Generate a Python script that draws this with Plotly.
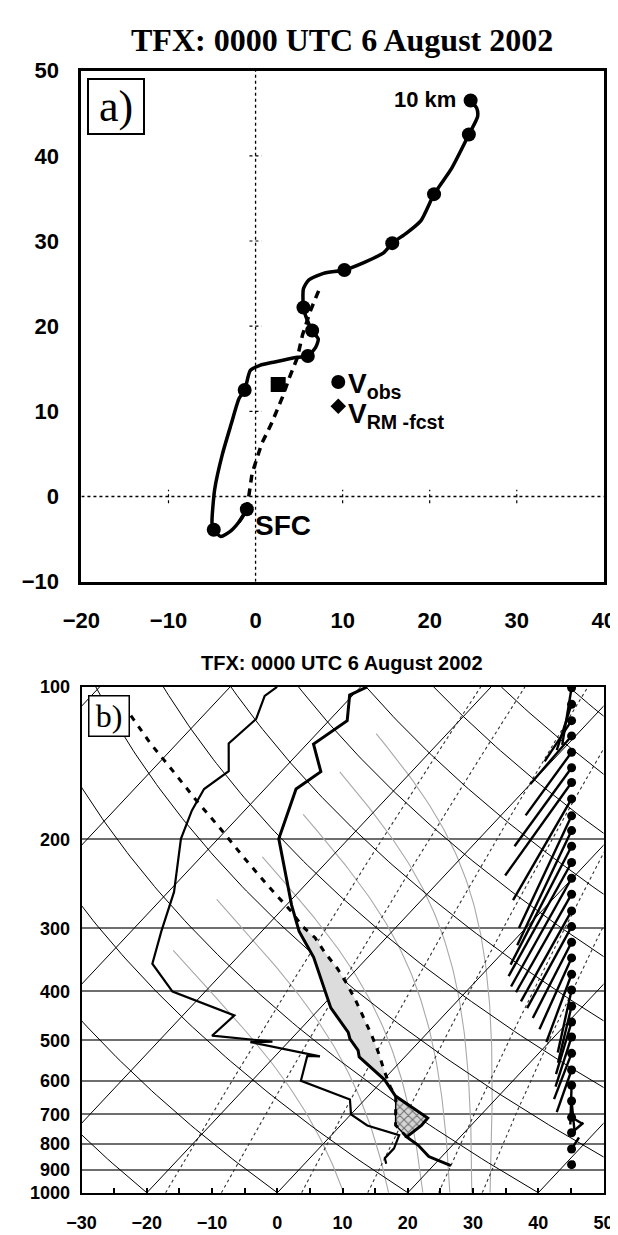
import numpy as np
import plotly.graph_objects as go

# ---------------- (a) hodograph data ----------------
hodo_path_u = [-1.0, -1.7, -2.8, -4.0, -4.8, -5.0, -4.7, -3.8, -2.8, -1.9, -1.25, -0.6, 0.5, 2.2, 4.8, 6.0,
               6.9, 7.2, 6.5, 5.9, 5.5, 5.5, 6.1, 7.8, 10.2, 12.5, 14.7, 15.7, 17.3, 19.0, 20.5, 22.5,
               24.5, 25.5, 25.4, 24.7]
hodo_path_v = [-1.5, -2.7, -4.0, -4.7, -3.9, -3.1, 0.8, 5.0, 8.5, 11.5, 12.5, 14.8, 15.4, 15.8, 16.35, 16.5,
               17.5, 18.5, 19.5, 20.8, 22.2, 24.4, 25.4, 26.2, 26.6, 27.5, 28.6, 29.75, 30.9, 32.4, 35.5, 38.5,
               42.5, 44.6, 45.6, 46.5]
hodo_km_u = [-1.0, -4.8, -1.25, 6.0, 6.5, 5.5, 10.2, 15.7, 20.5, 24.5, 24.7]
hodo_km_v = [-1.5, -3.9, 12.5, 16.5, 19.5, 22.2, 26.6, 29.75, 35.5, 42.5, 46.5]
hodo_dash_u = [-1.9, -1.0, -0.4, 0.7, 1.8, 3.1, 3.9, 4.8, 5.4, 6.3, 7.3]
hodo_dash_v = [-3.0, -1.5, 2.7, 6.2, 8.5, 11.7, 14.0, 16.3, 19.0, 21.8, 24.3]
storm_u = [2.6]
storm_v = [13.15]
hodo_ticks = [-20, -10, 0, 10, 20, 30, 40]
hodo_yticks = [-10, 0, 10, 20, 30, 40, 50]

# ---------------- (b) skew-T data ----------------
temp_p = [883.8, 860.5, 847.9, 804.8, 775.6, 736.1, 711.6, 643.9, 598.0, 538.7, 523.1, 496.5, 481.9,
          431.0, 397.3, 342.4, 313.2, 304.0, 269.9, 239.7, 199.6, 159.2, 147.1, 129.7, 116.6, 103.8, 100.0]
temp_T = [22.7, 19.5, 18.0, 14.7, 11.8, 12.4, 12.3, 4.2, 0.2, -7.0, -8.1, -11.0, -12.2,
          -18.4, -21.9, -28.3, -32.8, -34.3, -39.2, -43.7, -50.7, -55.2, -53.9, -59.0, -57.2, -60.5, -59.0]
dew_p = [875.9, 854.3, 817.0, 769.7, 736.1, 699.6, 653.8, 600.6, 536.3, 537.3, 503.8, 502.5, 489.2,
         446.1, 400.3, 352.6, 304.0, 254.3, 199.6, 175.4, 159.2, 146.7, 129.3, 115.7, 104.2, 100.0]
dew_T = [12.5, 11.5, 11.5, 10.4, 4.1, 0.0, -2.3, -12.5, -15.1, -13.1, -25.8, -22.5, -32.6,
         -32.1, -45.0, -52.1, -55.4, -59.1, -65.7, -68.1, -69.3, -68.1, -72.1, -71.4, -73.4, -72.8]
parcel_p = [775.6, 735.1, 643.1, 620.5, 576.0, 526.8, 489.2, 450.7, 415.4, 385.6, 360.6, 334.9,
            313.2, 297.3, 278.0, 246.8, 217.6, 190.3, 167.8, 147.8, 129.3, 113.1]
parcel_T = [11.8, 8.4, 4.2, 2.3, -1.0, -4.8, -8.1, -11.9, -15.8, -19.5, -23.0, -27.3,
            -30.9, -34.5, -38.3, -45.7, -53.3, -61.2, -68.8, -76.2, -84.1, -91.5]
barb_p = [879.9, 819.2, 760.8, 709.4, 658.4, 613.1, 571.9, 530.1, 492.1, 459.6, 427.9, 397.3, 369.9,
          343.3, 319.7, 297.7, 277.2, 256.9, 238.9, 222.4, 206.5, 192.3, 179.8, 166.5, 154.5, 144.5,
          134.6, 125.0, 116.6, 108.2, 100.4]
barb_u = [-1.0, -3.0, -4.8, -4.5, -1.25, 0.5, 6.0, 7.1, 6.5, 6.3, 5.5, 5.6, 10.2, 13.0, 15.7, 18.0,
          20.5, 22.5, 24.5, 25.5, 24.7, 22.0, 21.3, 23.7, 26.9, 23.1, 18.6, 16.7, 10.9, 6.0, 3.8]
barb_v = [-1.5, -4.5, -3.9, 2.6, 12.5, 15.4, 16.5, 18.0, 19.5, 20.5, 22.2, 24.5, 26.6, 28.0, 29.75, 32.0,
          35.5, 38.5, 42.5, 44.6, 46.5, 45.0, 44.0, 39.7, 36.5, 30.8, 24.8, 18.9, 16.0, 18.0, 22.4]
p_ticks = [100, 200, 300, 400, 500, 600, 700, 800, 900, 1000]
t_ticks = [-30, -20, -10, 0, 10, 20, 30, 40, 50]
isotherm_T = [-100, -80, -60, -40, -20, 0, 20, 40]
dry_theta_C = [-20, 0, 20, 40, 60, 80, 100, 120, 140, 160, 180, 200]
moist_theta_e = [305, 325, 345, 365, 385, 405]
mix_ratio = [1, 2, 5, 10, 20, 30]

# ---------------- layout geometry (px) ----------------
W, H = 618, 1235
A_L, A_R, A_T, A_B = 57.3, 607.3, 51.7, 573.3
B_L, B_R, B_T, B_B = 57.5, 607.0, 680.7, 1197.0
SKEW = 31.6  # deg C per ln(1000/p)
BARB_X = 45.1
BARB_PX = 2.6  # px per wind unit
PX_PER_X = (B_R - B_L) / 80.0
PX_PER_DEC = B_B - B_T

FONT = "Liberation Sans, Arial, sans-serif"
SERIF = "Liberation Serif, Times New Roman, serif"


def skx(p, T):
    p = np.asarray(p, float)
    return np.asarray(T, float) + SKEW * np.log(1000.0 / p)


fig = go.Figure()

# ---------------- hodograph ----------------
fig.add_trace(go.Scatter(x=[0, 0], y=[-10, 50], mode="lines", line=dict(color="black", width=1.3, dash="dot"),
                         xaxis="x", yaxis="y", hoverinfo="skip"))
fig.add_trace(go.Scatter(x=[-20, 40], y=[0, 0], mode="lines", line=dict(color="black", width=1.3, dash="dot"),
                         xaxis="x", yaxis="y", hoverinfo="skip"))
for tv in [10, 20, 30, 40]:
    fig.add_trace(go.Scatter(x=[-0.7, 0.7], y=[tv, tv], mode="lines", line=dict(color="black", width=1.2, dash="dot"),
                             xaxis="x", yaxis="y", hoverinfo="skip"))
for tu in [-10, 10, 20, 30]:
    fig.add_trace(go.Scatter(x=[tu, tu], y=[-0.8, 0.8], mode="lines", line=dict(color="black", width=1.2, dash="dot"),
                             xaxis="x", yaxis="y", hoverinfo="skip"))
fig.add_trace(go.Scatter(x=hodo_dash_u, y=hodo_dash_v, mode="lines",
                         line=dict(color="black", width=3.5, dash="8px,6px"), xaxis="x", yaxis="y"))
fig.add_trace(go.Scatter(x=hodo_path_u, y=hodo_path_v, mode="lines",
                         line=dict(color="black", width=3.5, shape="spline", smoothing=0.6), xaxis="x", yaxis="y"))
fig.add_trace(go.Scatter(x=hodo_km_u, y=hodo_km_v, mode="markers",
                         marker=dict(color="black", size=14, symbol="circle"), xaxis="x", yaxis="y"))
fig.add_trace(go.Scatter(x=storm_u, y=storm_v, mode="markers",
                         marker=dict(color="black", size=15, symbol="square"), xaxis="x", yaxis="y"))
fig.add_trace(go.Scatter(x=[9.5], y=[13.45], mode="markers",
                         marker=dict(color="black", size=14, symbol="circle"), xaxis="x", yaxis="y"))
fig.add_trace(go.Scatter(x=[9.5], y=[10.6], mode="markers",
                         marker=dict(color="black", size=12, symbol="diamond"), xaxis="x", yaxis="y"))

# ---------------- skew-T background ----------------
pp = np.geomspace(1000, 100, 120)


def theta_e_sat(TK, p):
    es = 6.112 * np.exp(17.67 * (TK - 273.15) / (TK - 29.65))
    r = 0.622 * es / (p - es)
    return TK * (1000.0 / p) ** (0.2854 * (1 - 0.28 * r)) * np.exp((3.376 / TK - 0.00254) * r * 1000 * (1 + 0.81 * r))


for the in moist_theta_e:
    lo = np.full_like(pp, 150.0)
    hi = np.full_like(pp, 320.0)
    for _ in range(60):
        mid = 0.5 * (lo + hi)
        f = theta_e_sat(mid, pp) - the
        hi = np.where(f > 0, mid, hi)
        lo = np.where(f > 0, lo, mid)
    TC = 0.5 * (lo + hi) - 273.15
    keep = TC >= -51.5
    fig.add_trace(go.Scatter(x=skx(pp[keep], TC[keep]), y=pp[keep], mode="lines",
                             line=dict(color="#a8a8a8", width=1.1), xaxis="x2", yaxis="y2", hoverinfo="skip"))
for w in mix_ratio:
    e = w * pp / (622.0 + w)
    lnr = np.log(e / 6.112)
    Td = 243.5 * lnr / (17.67 - lnr)
    fig.add_trace(go.Scatter(x=skx(pp, Td), y=pp, mode="lines",
                             line=dict(color="#333333", width=1.1, dash="dot"), xaxis="x2", yaxis="y2", hoverinfo="skip"))
for th in dry_theta_C:
    TK = (th + 273.15) * (pp / 1000.0) ** 0.2857
    fig.add_trace(go.Scatter(x=skx(pp, TK - 273.15), y=pp, mode="lines",
                             line=dict(color="black", width=1), xaxis="x2", yaxis="y2", hoverinfo="skip"))
for t0 in isotherm_T:
    fig.add_trace(go.Scatter(x=skx([1000, 100], [t0, t0]), y=[1000, 100], mode="lines",
                             line=dict(color="black", width=1), xaxis="x2", yaxis="y2", hoverinfo="skip"))

# CAPE (gray) and CIN (hatched)
tp = np.array(temp_p); tT = np.array(temp_T)
pa = np.array(parcel_p); pT = np.array(parcel_T)
m1 = (pa <= 600) & (pa >= 297)
m2 = (tp <= 600) & (tp >= 297)
cx = np.concatenate([skx(pa[m1], pT[m1]), skx(tp[m2], tT[m2])[::-1]])
cy = np.concatenate([pa[m1], tp[m2][::-1]])
fig.add_trace(go.Scatter(x=cx, y=cy, mode="lines", fill="toself", fillcolor="#dcdcdc",
                         line=dict(width=0, color="rgba(0,0,0,0)"), xaxis="x2", yaxis="y2", hoverinfo="skip"))
m1 = (pa <= 776) & (pa >= 640)
m2 = (tp <= 776) & (tp >= 640)
hx = np.concatenate([skx(pa[m1], pT[m1]), skx(tp[m2], tT[m2])[::-1]])
hy = np.concatenate([pa[m1], tp[m2][::-1]])
fig.add_trace(go.Scatter(x=hx, y=hy, mode="lines", fill="toself", fillcolor="#d0d0d0",
                         fillpattern=dict(shape="x", fgcolor="black", bgcolor="#d6d6d6", size=6, solidity=0.3),
                         line=dict(width=1.5, color="black"), xaxis="x2", yaxis="y2", hoverinfo="skip"))

fig.add_trace(go.Scatter(x=skx(dew_p, dew_T), y=dew_p, mode="lines", line=dict(color="black", width=2.2),
                         xaxis="x2", yaxis="y2"))
fig.add_trace(go.Scatter(x=skx(parcel_p, parcel_T), y=parcel_p, mode="lines",
                         line=dict(color="black", width=3, dash="6px,7px"), xaxis="x2", yaxis="y2"))
fig.add_trace(go.Scatter(x=skx(temp_p, temp_T), y=temp_p, mode="lines", line=dict(color="black", width=3),
                         xaxis="x2", yaxis="y2"))

bx, by = [], []
for p, u, v in zip(barb_p, barb_u, barb_v):
    bx += [BARB_X, BARB_X - u * BARB_PX / PX_PER_X, None]
    by += [p, p * 10 ** (v * BARB_PX / PX_PER_DEC), None]
fig.add_trace(go.Scatter(x=bx, y=by, mode="lines", line=dict(color="black", width=2.4), xaxis="x2", yaxis="y2"))
fig.add_trace(go.Scatter(x=[BARB_X] * len(barb_p), y=barb_p, mode="markers",
                         marker=dict(color="black", size=9), xaxis="x2", yaxis="y2"))

# ---------------- layout ----------------
tick_font_a = dict(family=FONT, size=22, color="black", weight="bold")
tick_font_b = dict(family=FONT, size=18, color="black", weight="bold")
fig.update_layout(
    width=W, height=H, showlegend=False, plot_bgcolor="white", paper_bgcolor="white",
    margin=dict(l=0, r=0, t=0, b=0),
    xaxis=dict(domain=[A_L / W, A_R / W], range=[-20, 40], tickvals=hodo_ticks, showgrid=False, zeroline=False,
               showline=True, linecolor="black", linewidth=3, mirror=True, tickfont=tick_font_a,
               ticks="", ticklabelstandoff=17, anchor="y"),
    yaxis=dict(domain=[1 - A_B / H, 1 - A_T / H], range=[-10, 50], tickvals=hodo_yticks, showgrid=False,
               zeroline=False, showline=True, linecolor="black", linewidth=3, mirror=True, tickfont=tick_font_a,
               ticks="", ticklabelstandoff=15, anchor="x"),
    xaxis2=dict(domain=[B_L / W, B_R / W], range=[-30, 50], tickvals=t_ticks,
                showgrid=False, zeroline=False, showline=True, linecolor="black", linewidth=2, mirror=True,
                ticks="inside", ticklen=5, tickwidth=1.5, tickcolor="black", tickfont=tick_font_b,
                minor=dict(ticks="inside", ticklen=5, tickwidth=1.5, tickcolor="black", dtick=5, tick0=-30,
                           showgrid=False),
                ticklabelstandoff=13, anchor="y2"),
    yaxis2=dict(domain=[1 - B_B / H, 1 - B_T / H], type="log", range=[3, 2], tickvals=p_ticks,
                ticktext=[str(p) for p in p_ticks], showgrid=True, gridcolor="#6e6e6e", gridwidth=1.6,
                zeroline=False, showline=True, linecolor="black", linewidth=2, mirror=True, ticks="",
                tickfont=tick_font_b, ticklabelstandoff=6, anchor="x2"),
)

ann = []
ann.append(dict(text="<b>TFX: 0000 UTC 6 August 2002</b>", x=332 / W, y=1 - 20 / H, xref="paper", yref="paper",
                showarrow=False, font=dict(family=SERIF, size=32, color="black"), xanchor="center", yanchor="middle"))
ann.append(dict(text="<b>TFX: 0000 UTC 6 August 2002</b>", x=332 / W, y=1 - 656 / H, xref="paper", yref="paper",
                showarrow=False, font=dict(family=FONT, size=20, color="black"), xanchor="center", yanchor="middle"))
ann.append(dict(text="a)", x=94.2 / W, y=1 - 88 / H, xref="paper", yref="paper", showarrow=False,
                font=dict(family=SERIF, size=44, color="black"), xanchor="center", yanchor="middle",
                bordercolor="black", borderwidth=2, bgcolor="white", width=54, height=53, borderpad=0))
ann.append(dict(text="b)", x=86.2 / W, y=1 - 710.5 / H, xref="paper", yref="paper", showarrow=False,
                font=dict(family=SERIF, size=32, color="black"), xanchor="center", yanchor="middle",
                bordercolor="black", borderwidth=1.5, bgcolor="white", width=39, height=39, borderpad=0))
ann.append(dict(text="<b>10 km</b>", x=23.3, y=46.6, xref="x", yref="y", showarrow=False,
                font=dict(family=FONT, size=22, color="black"), xanchor="right", yanchor="middle"))
ann.append(dict(text="<b>SFC</b>", x=-0.3, y=-3.4, xref="x", yref="y", showarrow=False,
                font=dict(family=FONT, size=28, color="black"), xanchor="left", yanchor="middle"))
ann.append(dict(text="<b>V<sub>obs</sub></b>", x=10.4, y=13.0, xref="x", yref="y", showarrow=False,
                font=dict(family=FONT, size=28, color="black"), xanchor="left", yanchor="middle"))
ann.append(dict(text="<b>V<sub>RM -fcst</sub></b>", x=10.4, y=9.5, xref="x", yref="y", showarrow=False,
                font=dict(family=FONT, size=28, color="black"), xanchor="left", yanchor="middle"))
fig.update_layout(annotations=ann)

fig.write_html("out.html")
